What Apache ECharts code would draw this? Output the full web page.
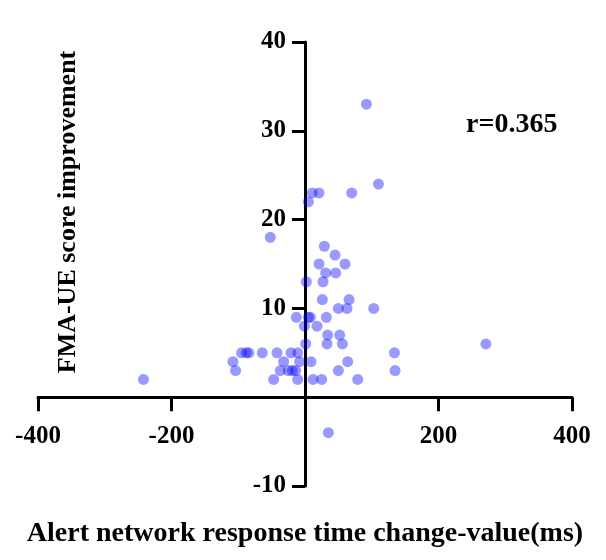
<!DOCTYPE html>
<html>
<head>
<meta charset="utf-8">
<script src="https://cdn.jsdelivr.net/npm/echarts@6/dist/echarts.min.js"></script>
<style>html,body{margin:0;padding:0;background:#fff}#c{width:606px;height:560px}</style>
</head>
<body>
<div id="c"></div>
<script>
var xValues = [-242, -52, 2, 27, -13, 5, 8, 32, -1, 18, 1, 33, 56, 271, -95, -88, -84, -64, -42, -21, -11, 134, -108, -32, -8, 9, 64, -104, -37, -25, -19, -14, 50, 135, -47, -11, 12, 25, 79, 92, 110, 11, 21, 70, 5, 29, 45, 21, 60, 31, 46, 26, 66, 50, 63, 103, 34, 52, 35];
var yValues = [2, 18, 13, 13, 9, 9, 9, 9, 8, 8, 6, 6, 6, 6, 5, 5, 5, 5, 5, 5, 5, 5, 4, 4, 4, 4, 4, 3, 3, 3, 3, 3, 3, 3, 2, 2, 2, 2, 2, 33, 24, 23, 23, 23, 22, 17, 16, 15, 15, 14, 14, 11, 11, 10, 10, 10, 7, 7, -4];
var xTitle = 'Alert network response time change-value(ms)';
var yTitle = 'FMA-UE score improvement';
var rLabel = 'r=0.365';

var pts = xValues.map(function (x, i) { return [x, yValues[i]]; });
var font = '"Liberation Serif", "Times New Roman", serif';
var W = 606, H = 560;
var gl = 38, gr = 34, gt = 42, gb = 74;
var gw = W - gl - gr, gh = H - gt - gb;
var xMin = -400, xMax = 400, yMin = -10, yMax = 40;
// place the axes where the other axis is zero
var xAxisOffset = -gh * (0 - yMin) / (yMax - yMin);
var yAxisOffset = -gw * (0 - xMin) / (xMax - xMin);

var chart = echarts.init(document.getElementById('c'), null, {renderer: 'canvas'});
chart.setOption({
  animation: false,
  backgroundColor: '#fff',
  grid: {left: gl, right: gr, top: gt, bottom: gb, containLabel: false, outerBoundsMode: 'none'},
  xAxis: {
    type: 'value', min: xMin, max: xMax, interval: 200,
    position: 'bottom', offset: xAxisOffset,
    splitLine: {show: false},
    axisLine: {onZero: false, lineStyle: {color: '#000', width: 3}},
    axisTick: {show: true, inside: false, length: 14, lineStyle: {color: '#000', width: 3}},
    axisLabel: {
      color: '#000', fontFamily: font, fontWeight: 'bold', fontSize: 25, margin: 27,
      formatter: function (v) { return v === 0 ? '' : String(v); }
    },
    name: xTitle, nameLocation: 'middle', nameGap: 123,
    nameTextStyle: {color: '#000', fontFamily: font, fontWeight: 'bold', fontSize: 28}
  },
  yAxis: {
    type: 'value', min: yMin, max: yMax, interval: 10,
    position: 'left', offset: yAxisOffset,
    splitLine: {show: false},
    axisLine: {onZero: false, lineStyle: {color: '#000', width: 3}},
    axisTick: {show: true, inside: false, length: 13, lineStyle: {color: '#000', width: 3}},
    axisLabel: {
      color: '#000', fontFamily: font, fontWeight: 'bold', fontSize: 25, margin: 19,
      formatter: function (v) { return v === 0 ? '' : String(v); }
    },
    name: yTitle, nameLocation: 'middle', nameGap: 224,
    nameTextStyle: {color: '#000', fontFamily: font, fontWeight: 'bold', fontSize: 26, padding: [0, 0, 0, 104]}
  },
  graphic: [{
    type: 'text', left: 466, top: 111,
    style: {text: rLabel, fill: '#000', font: 'bold 28px ' + font}
  }],
  series: [{
    type: 'scatter',
    data: pts,
    symbol: 'circle',
    symbolSize: 11,
    itemStyle: {color: 'rgba(0,0,255,0.5)'}
  }]
});
</script>
</body>
</html>
